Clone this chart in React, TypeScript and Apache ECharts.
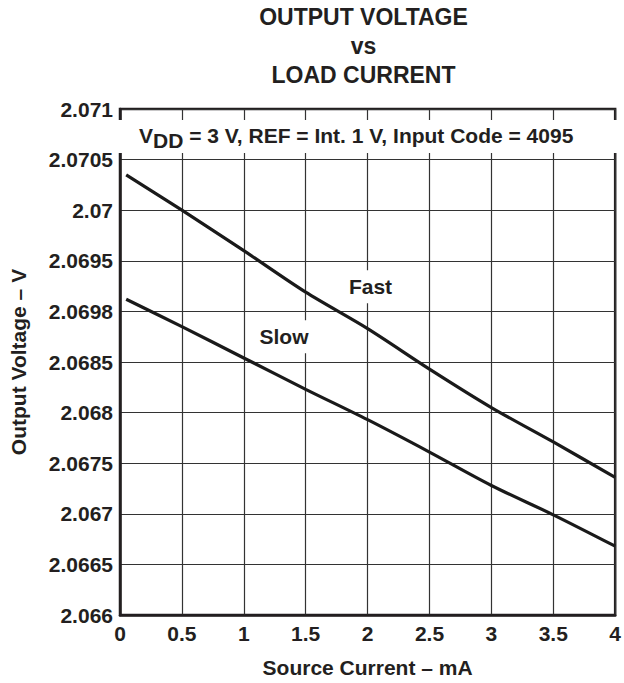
import React, { useEffect, useRef } from "react";
import * as echarts from "echarts";

const FONT = "'Liberation Sans', Arial, Helvetica, sans-serif";
const INK = "#231f20";

const X_MIN = 0;
const X_MAX = 4;
const X_STEP = 0.5;
const Y_MIN = 2.066;
const Y_MAX = 2.071;
const Y_STEP = 0.0005;

const yTickLabels = [
  "2.066", "2.0665", "2.067", "2.0675", "2.068", "2.0685",
  "2.0698", "2.0695", "2.07", "2.0705", "2.071",
];

const currentFast = [0.05, 0.5, 1.0, 1.5, 2.0, 2.5, 3.0, 3.5, 4.0];
const voltageFast = [2.07035, 2.07, 2.0696, 2.06919, 2.06883, 2.06843, 2.06805, 2.06771, 2.06736];

const currentSlow = [0.05, 0.5, 1.0, 1.5, 2.0, 2.5, 3.0, 3.5, 4.0];
const voltageSlow = [2.06912, 2.06885, 2.06854, 2.06823, 2.06793, 2.06761, 2.06728, 2.06699, 2.06668];

const titleLines = ["OUTPUT VOLTAGE", "vs", "LOAD CURRENT"];
const conditionText = "{n|V}{s|DD}{n| = 3 V, REF = Int. 1 V, Input Code = 4095}";

export default function App() {
  const ref = useRef<HTMLDivElement>(null);

  useEffect(() => {
    if (!ref.current) return;
    const chart = echarts.init(ref.current, null, { renderer: "svg" });
    const fast = currentFast.map((x, i) => [x, voltageFast[i]]);
    const slow = currentSlow.map((x, i) => [x, voltageSlow[i]]);

    chart.setOption({
      animation: false,
      backgroundColor: "#ffffff",
      title: {
        text: titleLines.join("\n"),
        left: 363.5,
        top: 2,
        padding: 0,
        textAlign: "center",
        textStyle: {
          fontFamily: FONT,
          fontWeight: "bold",
          fontSize: 23,
          lineHeight: 29.2,
          color: INK,
        },
      },
      grid: {
        left: 114,
        right: 4,
        top: 109,
        bottom: 67,
        show: true,
        borderColor: INK,
        borderWidth: 2.5,
        backgroundColor: "transparent",
      },
      xAxis: {
        type: "value",
        min: X_MIN,
        max: X_MAX,
        interval: X_STEP,
        name: "Source Current – mA",
        nameLocation: "middle",
        nameGap: 42,
        nameTextStyle: { fontFamily: FONT, fontWeight: "bold", fontSize: 21, color: INK },
        axisLine: { show: true, lineStyle: { color: INK, width: 2.5 } },
        axisTick: { show: false },
        axisLabel: {
          margin: 8,
          fontFamily: FONT,
          fontWeight: "bold",
          fontSize: 21,
          color: INK,
          formatter: (v: number) => String(v),
        },
        splitLine: { show: true, lineStyle: { color: "#333", width: 1.2 } },
      },
      yAxis: {
        type: "value",
        min: Y_MIN,
        max: Y_MAX,
        interval: Y_STEP,
        name: "Output Voltage – V",
        nameLocation: "middle",
        nameGap: 91,
        nameTextStyle: { fontFamily: FONT, fontWeight: "bold", fontSize: 21, color: INK },
        axisLine: { show: true, lineStyle: { color: INK, width: 2.5 } },
        axisTick: { show: false },
        axisLabel: {
          margin: 7,
          fontFamily: FONT,
          fontWeight: "bold",
          fontSize: 21,
          color: INK,
          formatter: (v: number) => yTickLabels[Math.round((v - Y_MIN) / Y_STEP)] ?? "",
        },
        splitLine: { show: true, lineStyle: { color: "#333", width: 1.2 } },
      },
      graphic: [
        {
          type: "rect",
          z: 50,
          shape: { x: 116, y: 120, width: 503, height: 33 },
          style: { fill: "#ffffff" },
        },
        {
          type: "text",
          z: 51,
          x: 139,
          y: 125,
          style: {
            text: conditionText,
            textVerticalAlign: "top",
            rich: {
              n: { fontFamily: FONT, fontWeight: "bold", fontSize: 21, lineHeight: 24, verticalAlign: "top", fill: INK },
              s: { fontFamily: FONT, fontWeight: "bold", fontSize: 21, lineHeight: 24, verticalAlign: "top", padding: [5, 0, 0, 0], fill: INK },
            },
          },
        },
        {
          type: "text",
          z: 51,
          x: 370.5,
          y: 286.7,
          style: {
            text: "Fast",
            fontFamily: FONT,
            fontWeight: "bold",
            fontSize: 21,
            fill: INK,
            align: "center",
            verticalAlign: "middle",
            backgroundColor: "#ffffff",
            padding: [3, 4, 9, 4],
          },
        },
        {
          type: "text",
          z: 51,
          x: 284,
          y: 336.7,
          style: {
            text: "Slow",
            fontFamily: FONT,
            fontWeight: "bold",
            fontSize: 21,
            fill: INK,
            align: "center",
            verticalAlign: "middle",
            backgroundColor: "#ffffff",
            padding: [6, 4, 6, 4],
          },
        },
      ],
      series: [
        {
          name: "Fast",
          type: "line",
          data: fast,
          smooth: 0.3,
          showSymbol: false,
          lineStyle: { color: "#1a1a1a", width: 3.2 },
          z: 5,
        },
        {
          name: "Slow",
          type: "line",
          data: slow,
          smooth: 0.3,
          showSymbol: false,
          lineStyle: { color: "#1a1a1a", width: 3.2 },
          z: 5,
        },
      ],
    });

    return () => chart.dispose();
  }, []);

  return (
    <div
      ref={ref}
      style={{ position: "fixed", left: 0, top: 0, width: 624, height: 683, background: "#fff" }}
    />
  );
}
